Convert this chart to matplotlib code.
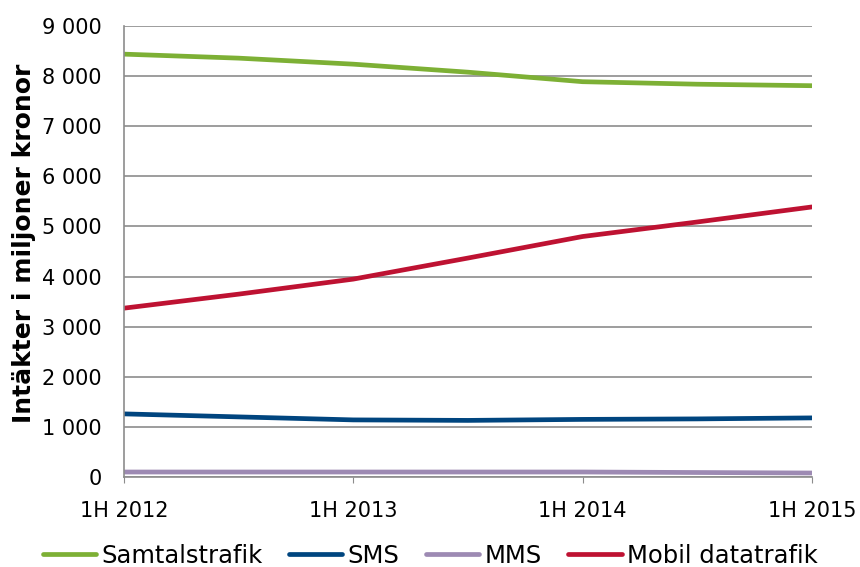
import matplotlib
matplotlib.use("Agg")
import matplotlib.pyplot as plt
from matplotlib.ticker import FuncFormatter

periods = ["1H 2012", "2H 2012", "1H 2013", "2H 2013", "1H 2014", "2H 2014", "1H 2015"]
samtal = [8440, 8360, 8240, 8080, 7890, 7840, 7810]
sms = [1260, 1200, 1140, 1130, 1150, 1160, 1180]
mms = [100, 100, 100, 100, 100, 90, 80]
data = [3370, 3650, 3950, 4370, 4800, 5090, 5390]

series = [
    ("Samtalstrafik", samtal, "#7DB035"),
    ("SMS", sms, "#00457F"),
    ("MMS", mms, "#9D8AB3"),
    ("Mobil datatrafik", data, "#BE1232"),
]
tick_idx = [0, 2, 4, 6]

plt.rcParams['font.family'] = ['DejaVu Sans']
fig = plt.figure(figsize=(8.6, 5.67), dpi=100)
ax = fig.add_axes([0.1442, 0.1587, 0.944 - 0.1442, 0.954 - 0.1587])

x = list(range(len(periods)))
for name, vals, col in series:
    ax.plot(x, vals, color=col, lw=3.4, label=name, solid_capstyle='round')

ax.set_xlim(0, len(periods) - 1)
ax.set_ylim(0, 9000)
ax.set_yticks(range(0, 9001, 1000))
ax.yaxis.set_major_formatter(FuncFormatter(lambda v, p: f"{int(v):,}".replace(",", " ")))
ax.set_xticks(tick_idx)
ax.set_xticklabels([periods[i] for i in tick_idx])
ax.grid(axis='y', color='#8C8C8C', lw=1.2)
ax.set_axisbelow(True)
for s in ['top', 'right']:
    ax.spines[s].set_visible(False)
for s in ['left', 'bottom']:
    ax.spines[s].set_color('#8C8C8C')
    ax.spines[s].set_linewidth(1.2)
ax.tick_params(axis='y', length=0, pad=16, labelsize=15)
ax.tick_params(axis='x', length=4, color='#8C8C8C', pad=13, labelsize=15)
ax.set_ylabel("Intäkter i miljoner kronor", fontsize=18, fontweight='bold')
ax.yaxis.set_label_coords(-(124 - 36) / 688, (477 - 243) / 451)

fig.legend(loc='center', bbox_to_anchor=(0.5, 1 - 556 / 567), ncol=4, frameon=False,
           fontsize=17.5, handlelength=2.2, handletextpad=0.2, columnspacing=1.1,
           borderaxespad=0)

fig.savefig("out.png", dpi=100)
